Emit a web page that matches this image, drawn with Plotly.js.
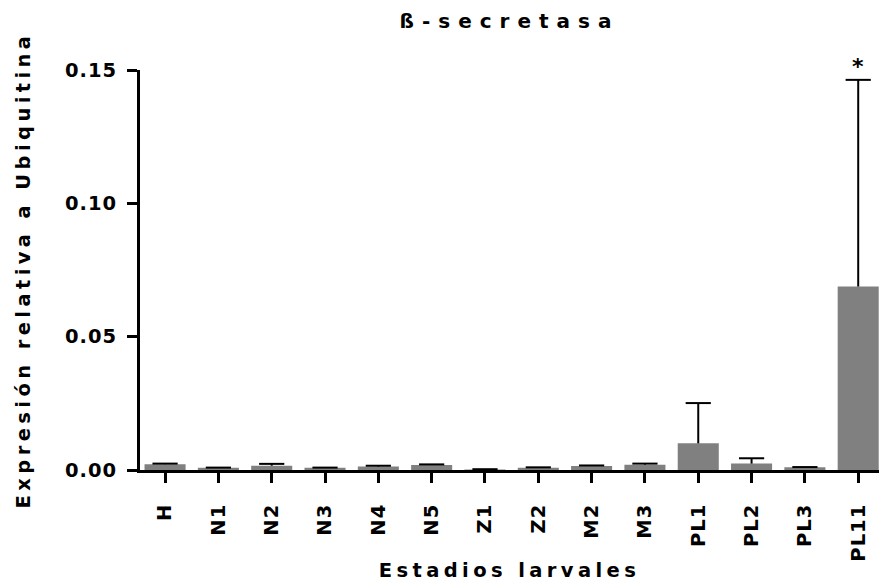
<!DOCTYPE html>
<html>
<head>
<meta charset="utf-8">
<script src="https://cdn.plot.ly/plotly-3.0.1.min.js"></script>
<style>
  html, body { margin: 0; padding: 0; background: #fff; }
  #chart { width: 879px; height: 582px; }
  .gtitle { letter-spacing: 8px; }
  .xtitle, .ytitle { letter-spacing: 4.4px; }
  .xtick text, .ytick text { letter-spacing: 1px; }
</style>
</head>
<body>
<div id="chart"></div>
<script>
const categories = ["H", "N1", "N2", "N3", "N4", "N5", "Z1", "Z2", "M2", "M3", "PL1", "PL2", "PL3", "PL11"];
const expression = [0.0022, 0.0008, 0.0016, 0.0008, 0.0013, 0.0019, 0.0002, 0.0008, 0.0015, 0.0020, 0.0100, 0.0024, 0.0010, 0.0688];
const errorUp = [0.0002, 0.0001, 0.0007, 0.0001, 0.0003, 0.0002, 0.0001, 0.0002, 0.0002, 0.0004, 0.0151, 0.0020, 0.0001, 0.0775];
const yTickValues = [0, 0.05, 0.10, 0.15];
const yTickLabels = ["0.00", "0.05", "0.10", "0.15"];
const significant = ["PL11"];

const FONT = "DejaVu Sans, Verdana, sans-serif";
const capTops = expression.map((v, i) => v + errorUp[i]);

const bars = {
  type: "bar",
  x: categories,
  y: expression,
  width: 0.77,
  marker: { color: "#808080", line: { width: 0 } },
  error_y: {
    type: "data",
    symmetric: false,
    array: errorUp,
    arrayminus: categories.map(() => 0),
    color: "#000000",
    thickness: 2,
    width: 0
  },
  hoverinfo: "x+y"
};

const caps = {
  type: "scatter",
  mode: "markers",
  x: categories,
  y: capTops,
  marker: { symbol: "line-ew", size: 18, color: "#000", line: { color: "#000", width: 2 } },
  cliponaxis: false,
  hoverinfo: "skip"
};

const annotations = significant.map(c => {
  const i = categories.indexOf(c);
  return {
    x: c, y: capTops[i], xref: "x", yref: "y",
    text: "*", showarrow: false, yanchor: "bottom", yshift: -1,
    font: { family: FONT, size: 22, color: "#000", weight: "bold" }
  };
});

const layout = {
  width: 879, height: 582,
  margin: { l: 140, r: 0, t: 70, b: 112 },
  paper_bgcolor: "#fff", plot_bgcolor: "#fff",
  showlegend: false,
  title: {
    text: "ß-secretasa",
    font: { family: FONT, size: 20, color: "#000", weight: "bold" },
    xref: "paper", x: 0.5, xanchor: "center",
    yref: "container", y: 1 - 21 / 582, yanchor: "middle"
  },
  xaxis: {
    type: "category",
    range: [-0.47, 13.39],
    showline: true, linewidth: 3, linecolor: "#000",
    ticks: "outside", ticklen: 10, tickwidth: 3, tickcolor: "#000",
    tickangle: -90,
    tickfont: { family: FONT, size: 19.5, color: "#000", weight: "bold" },
    ticklabelstandoff: 13,
    showgrid: false, zeroline: false, fixedrange: true,
    title: {
      text: "Estadios larvales",
      font: { family: FONT, size: 19.5, color: "#000", weight: "bold" },
      standoff: 3
    }
  },
  yaxis: {
    range: [0, 0.15],
    tickvals: yTickValues, ticktext: yTickLabels,
    showline: true, linewidth: 3, linecolor: "#000",
    ticks: "outside", ticklen: 10, tickwidth: 3, tickcolor: "#000",
    tickfont: { family: FONT, size: 19.5, color: "#000", weight: "bold" },
    ticklabelstandoff: 6,
    showgrid: false, zeroline: false, fixedrange: true,
    title: {
      text: "Expresión relativa a Ubiquitina",
      font: { family: FONT, size: 19.5, color: "#000", weight: "bold" },
      standoff: 30
    }
  },
  annotations: annotations
};

Plotly.newPlot("chart", [bars, caps], layout, { displayModeBar: false, staticPlot: true });
</script>
</body>
</html>
